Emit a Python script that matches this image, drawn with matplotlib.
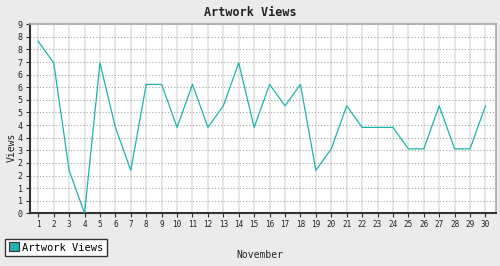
import numpy as np
import matplotlib
matplotlib.use('Agg')
import matplotlib.pyplot as plt
from matplotlib.patches import Patch

days = list(range(1, 31))
views = [8, 7, 2, 0, 7, 4, 2, 6, 6, 4, 6, 4, 5, 7, 4, 6, 5, 6, 2, 3, 5, 4, 4, 4, 3, 3, 5, 3, 3, 5]
y_tick_labels = ['0', '1', '1', '2', '2', '3', '4', '4', '5', '5', '6', '6', '7', '8', '8', '9']
y_max = 8.8

teal = '#20b2aa'
plt.rcParams['font.family'] = 'DejaVu Sans Mono'

fig = plt.figure(figsize=(5, 2.66), dpi=100, facecolor='#ebebeb')
ax = fig.add_axes([0.059, 0.198, 0.932, 0.711])
ax.set_facecolor('white')

ax.plot(days, views, color=teal, lw=0.9, zorder=3)

ax.set_xlim(0.43, 30.65)
ax.set_ylim(0, y_max)
ax.set_xticks(days)
ax.set_xticklabels([str(d) for d in days], size=5.5)
ax.set_yticks(np.linspace(0, y_max, len(y_tick_labels)))
ax.set_yticklabels(y_tick_labels, size=6)

ax.grid(axis='x', color='#e6e6e6', lw=1.4, ls='-', zorder=0)
ax.grid(axis='y', color='#a0a0a0', lw=0.75, ls=(0, (1, 2)), zorder=1)
ax.tick_params(axis='both', direction='out', length=3, width=0.8, color='#333333', pad=2, labelcolor='#222222')

for side in ['left', 'bottom']:
    ax.spines[side].set_color('#333333')
    ax.spines[side].set_linewidth(1.5)
for side in ['top', 'right']:
    ax.spines[side].set_color('#aaaaaa')
    ax.spines[side].set_linewidth(1.2)

fig.text(0.5, 0.953, 'Artwork Views', ha='center', va='center', size=8.5, weight='bold', color='#222222')
fig.text(0.52, 0.041, 'November', ha='center', va='center', size=7, color='#222222')
fig.text(0.024, 0.445, 'Views', ha='center', va='center', rotation=90, size=7, color='#222222')

leg = fig.legend(handles=[Patch(facecolor=teal, edgecolor='#333333', lw=0.8, label='Artwork Views')],
                 loc='lower left', bbox_to_anchor=(0.01, 0.037), borderaxespad=0,
                 fancybox=False, framealpha=1, edgecolor='#333333', prop={'size': 7.5},
                 handlelength=0.95, handleheight=0.95, handletextpad=0.35, borderpad=0.35)
leg.get_frame().set_linewidth(1)

fig.savefig('out.png', dpi=100, facecolor=fig.get_facecolor())
